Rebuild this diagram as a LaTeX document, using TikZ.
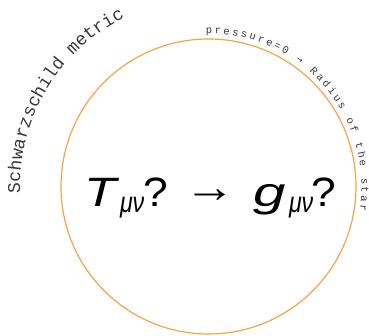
\documentclass[tikz,border=0pt]{standalone}
\usepackage{fontspec}
\setmainfont{Liberation Sans}
\newfontfamily\monofam{Liberation Mono}
\newfontfamily\arrfam{DejaVu Sans Mono}
\usetikzlibrary{decorations.text}
\definecolor{ringorange}{RGB}{240,166,72}
\definecolor{labelgray}{RGB}{55,55,55}
\newcommand{\bigfnt}{\fontsize{41}{44}\selectfont}
\newcommand{\subfnt}{\fontsize{29}{32}\selectfont}
\newcommand{\schfnt}{\monofam\fontsize{18}{20}\selectfont\color{labelgray}}
\newcommand{\smallfnt}{\monofam\fontsize{10.5}{12}\selectfont\color{labelgray}}
\newcommand{\smallarr}{\arrfam\fontsize{10}{12}\selectfont\color{labelgray}}
\begin{document}
\begin{tikzpicture}[x=1pt,y=1pt,
  glyph/.style={inner sep=0pt, outer sep=0pt, anchor=base west, text=black},
  ring/.style={draw=ringorange, line width=1.2pt}]
\useasboundingbox (0,0) rectangle (369,336);
\coordinate (C) at (208.5,149.5);
\draw[ring] (C) circle[radius=147.5];
% curved labels
\path[decorate, decoration={text along path, text align=left,
  text={|\schfnt|Schwarzschild metric}}]
  (C) ++(182:188.5) arc[start angle=182, end angle=108, radius=188.5];
\path[decorate, decoration={text along path, text align=fit to path,
  text={|\smallfnt|pressure=0 |\smallarr|→|\smallfnt| Radius of the star}}]
  (C) ++(91:153) arc[start angle=91, end angle=-9, radius=153];
% main expression
\node[glyph] (T) at (84,129.3) {\scalebox{1.28}[1]{\bigfnt\itshape T}};
\node[glyph] (s1) at (120,123) {\scalebox{0.8}[1]{\subfnt\itshape μν}};
\node[glyph] (q1) at (143,129.3) {\scalebox{1.08}[1]{\bigfnt ?}};
\node[inner sep=0pt] (arr) at (210,140) {\scalebox{1.25}[1.1]{\bigfnt →}};
\node[glyph] (g) at (253,129.3) {\scalebox{1.42}[1]{\bigfnt\itshape g}};
\node[glyph] (s2) at (289,123) {\scalebox{0.8}[1]{\subfnt\itshape μν}};
\node[glyph] (q2) at (311,129.3) {\scalebox{1.08}[1]{\bigfnt ?}};
\end{tikzpicture}
\end{document}
